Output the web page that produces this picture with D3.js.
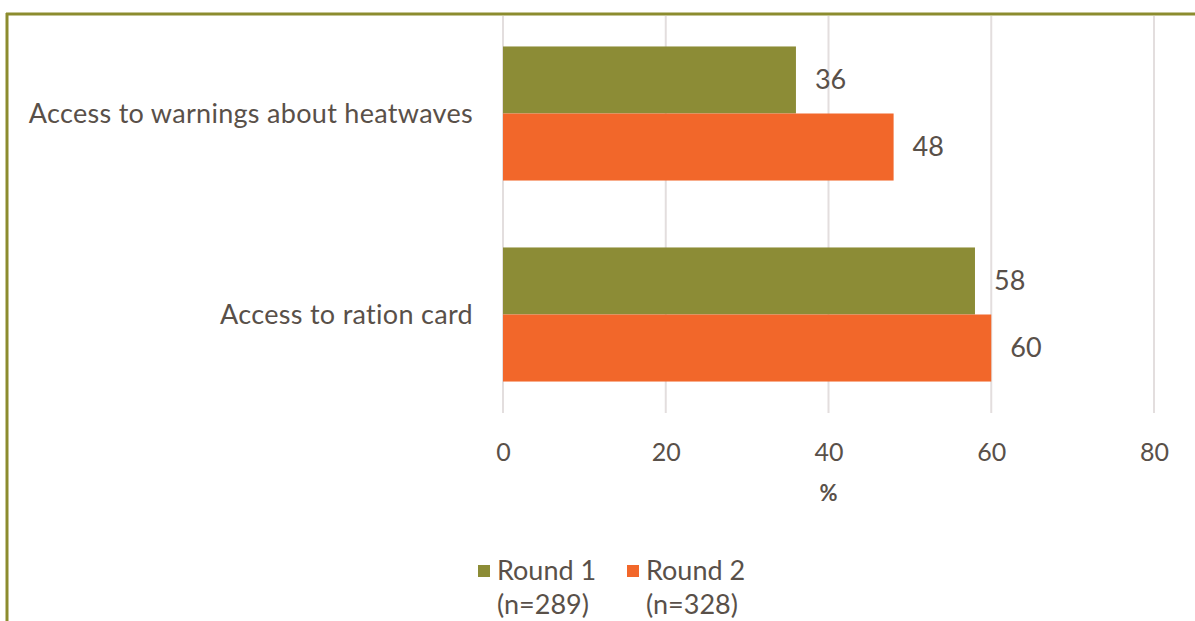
<!DOCTYPE html>
<html>
<head>
<meta charset="utf-8">
<script src="https://cdn.jsdelivr.net/npm/d3@7"></script>
<style>
  html, body { margin: 0; padding: 0; background: #fff; }
  svg { display: block; }
  text { font-family: Lato, "Open Sans", sans-serif; fill: #595049; }
</style>
</head>
<body>
<svg id="chart" width="1195" height="621"></svg>
<script>
// Survey indicators and shares (%) by round
const categories = ["Access to warnings about heatwaves", "Access to ration card"];
const round1 = [36, 58];
const round2 = [48, 60];
const seriesNames = ["Round 1", "Round 2"];
const seriesNotes = ["(n=289)", "(n=328)"];
const tickValues = [0, 20, 40, 60, 80];
const axisTitle = "%";

const colors = ["#8C8C36", "#F2672A"];
const svg = d3.select("#chart");
const W = 1195, H = 621;

// Frame: olive rule along top and left edges
svg.append("line").attr("x1", 6).attr("x2", W).attr("y1", 14).attr("y2", 14)
  .attr("stroke", "#8C8C2E").attr("stroke-width", 3);
svg.append("line").attr("x1", 7).attr("x2", 7).attr("y1", 13).attr("y2", H)
  .attr("stroke", "#8C8C2E").attr("stroke-width", 3);

const x = d3.scaleLinear().domain([0, 80]).range([503, 1154]);
const y = d3.scaleBand().domain(categories).range([13, 415]).paddingInner(0.333).paddingOuter(0.1665);
const ySub = d3.scaleBand().domain([0, 1]).range([0, y.bandwidth()]);

// Vertical gridlines
svg.append("g").selectAll("line").data(tickValues).join("line")
  .attr("x1", d => x(d)).attr("x2", d => x(d))
  .attr("y1", 16).attr("y2", 413)
  .attr("stroke", "#E3DEDE").attr("stroke-width", 2);

// Bars
const rows = categories.map((c, i) => ({ cat: c, vals: [round1[i], round2[i]] }));
const groups = svg.append("g").selectAll("g").data(rows).join("g")
  .attr("transform", d => `translate(0,${y(d.cat)})`);

groups.selectAll("rect").data(d => d.vals.map((v, k) => ({ v, k }))).join("rect")
  .attr("x", x(0))
  .attr("y", d => ySub(d.k))
  .attr("width", d => x(d.v) - x(0))
  .attr("height", ySub.bandwidth())
  .attr("fill", d => colors[d.k]);

// Value labels
groups.selectAll("text.val").data(d => d.vals.map((v, k) => ({ v, k }))).join("text")
  .attr("class", "val")
  .attr("x", d => x(d.v) + 19)
  .attr("y", d => ySub(d.k) + ySub.bandwidth() / 2)
  .attr("dy", "0.35em")
  .attr("font-size", 27)
  .text(d => d.v);

// Category labels
svg.append("g").selectAll("text").data(categories).join("text")
  .attr("x", 473)
  .attr("y", d => y(d) + y.bandwidth() / 2)
  .attr("dy", "0.35em")
  .attr("text-anchor", "end")
  .attr("font-size", 27)
  .attr("letter-spacing", 0.3)
  .text(d => d);

// X axis tick labels
const xAxis = d3.axisBottom(x).tickValues(tickValues).tickSize(0).tickPadding(0);
const gx = svg.append("g").attr("transform", "translate(0,452)").call(xAxis);
gx.select(".domain").remove();
gx.selectAll("text")
  .attr("dy", "0.35em").attr("y", 0)
  .attr("font-size", 25)
  .attr("font-family", "Lato, sans-serif")
  .attr("fill", "#595049");

// Axis title
svg.append("text")
  .attr("x", x(40)).attr("y", 493).attr("dy", "0.35em")
  .attr("text-anchor", "middle")
  .attr("font-size", 22).attr("font-weight", "bold")
  .text(axisTitle);

// Legend
const legendX = [478, 627];
const leg = svg.append("g").selectAll("g").data(seriesNames).join("g")
  .attr("transform", (d, i) => `translate(${legendX[i]},0)`);
leg.append("rect").attr("x", 0).attr("y", 565).attr("width", 12).attr("height", 12)
  .attr("fill", (d, i) => colors[i]);
leg.append("text").attr("x", 19).attr("y", 571).attr("dy", "0.35em")
  .attr("font-size", 27).text(d => d);
leg.append("text").attr("x", 19).attr("y", 605).attr("dy", "0.35em")
  .attr("font-size", 27).text((d, i) => seriesNotes[i]);
</script>
</body>
</html>
